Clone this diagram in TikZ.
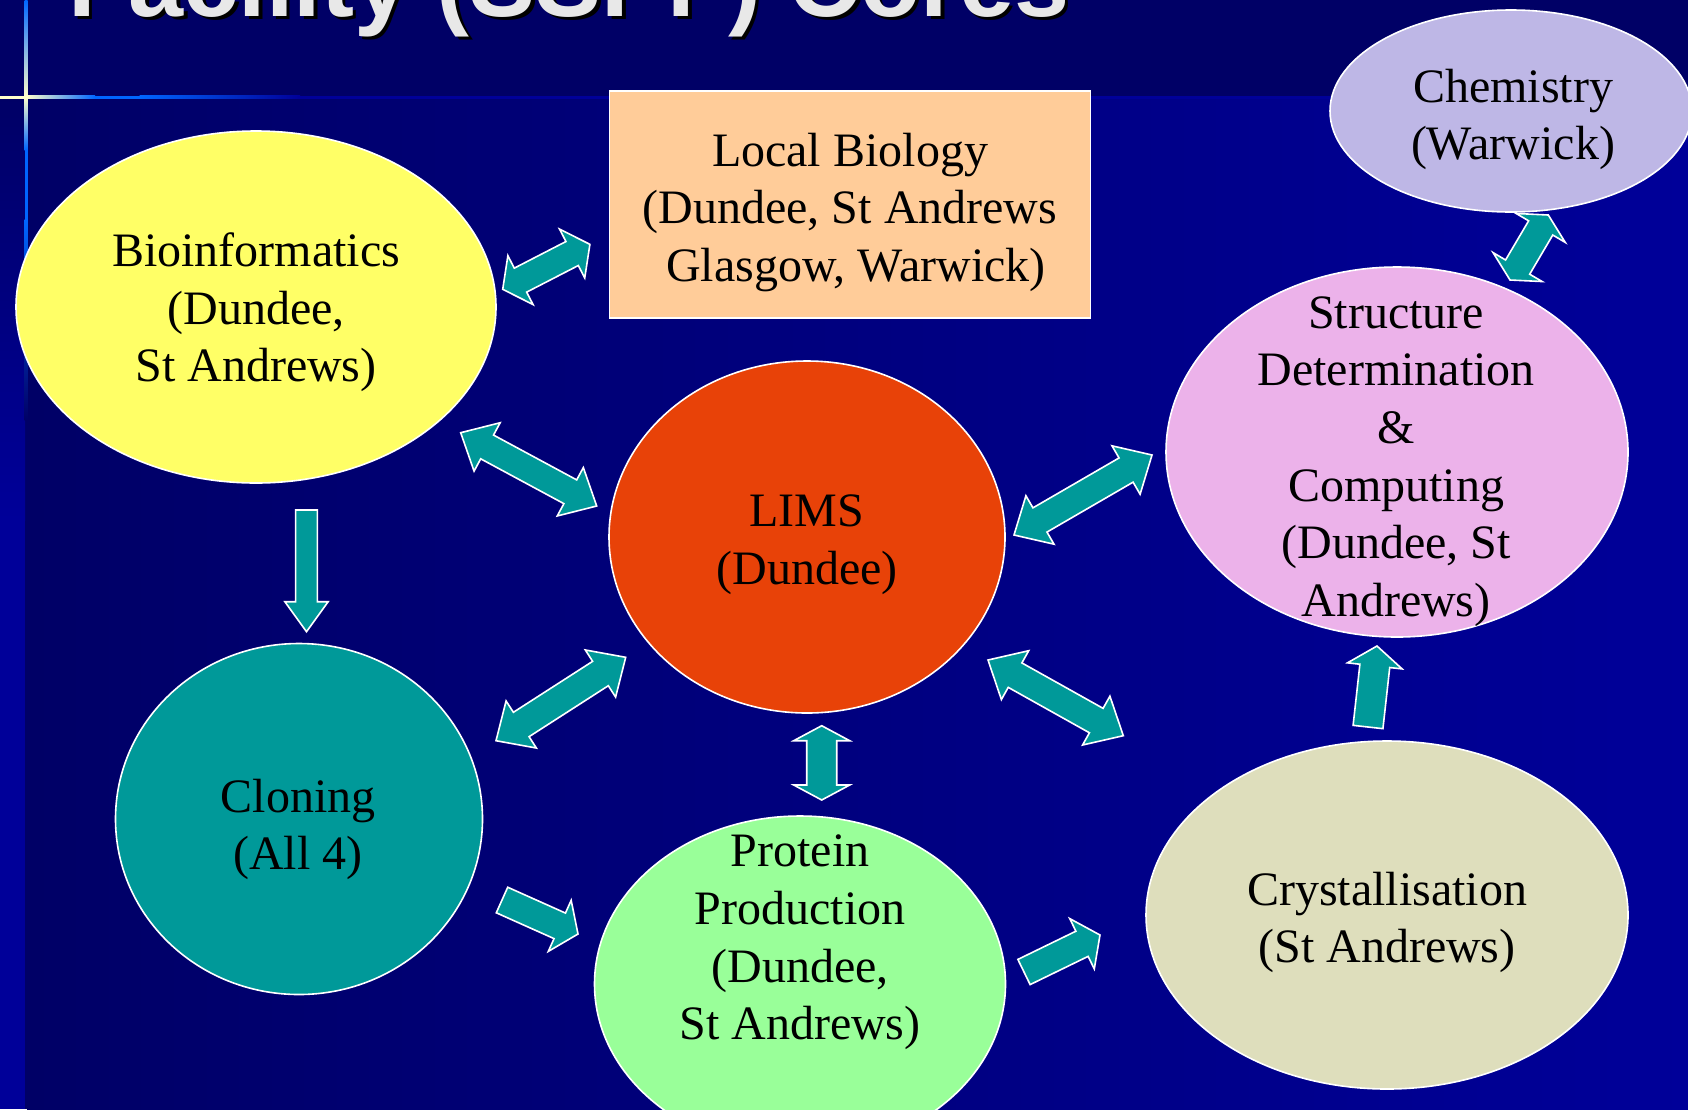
\documentclass[tikz,border=0pt]{standalone}
\usepackage{fontspec}
\setmainfont{Liberation Serif}
\newfontfamily\titlefont{Liberation Sans}
\usetikzlibrary{shapes.geometric}

\definecolor{bgdark}{RGB}{0,0,102}
\definecolor{bglight}{RGB}{0,0,153}
\definecolor{lineblue}{RGB}{0,102,255}
\definecolor{linecream}{RGB}{255,255,204}
\definecolor{titlegray}{RGB}{232,232,232}
\definecolor{arrowteal}{RGB}{0,153,153}
\definecolor{cbio}{RGB}{255,255,102}
\definecolor{clocal}{RGB}{255,204,153}
\definecolor{cchem}{RGB}{190,183,230}
\definecolor{clims}{RGB}{232,66,8}
\definecolor{cstruct}{RGB}{236,178,234}
\definecolor{cclone}{RGB}{0,153,153}
\definecolor{cprot}{RGB}{153,255,153}
\definecolor{ccryst}{RGB}{222,222,188}

\tikzset{
  ell/.style={ellipse, draw=white, line width=1.6pt, inner sep=0pt},
  boxnode/.style={rectangle, draw=white, line width=1.6pt, inner sep=0pt},
  lbl/.style={align=center, inner sep=0pt, text=black, font=\fontsize{48}{57.6}\selectfont},
  blockarrow/.style={fill=arrowteal, draw=white, line width=1.6pt, line join=miter},
}

% double block arrow: name, x1,y1,x2,y2, shaft width, head width, head length
\newcommand\dblarrow[8]{%
  \coordinate (#1-s) at (#2,#3);
  \coordinate (#1-e) at (#4,#5);
  \pgfmathsetmacro\arA{atan2(-(#5)+(#3),(#4)-(#2))}%
  \pgfmathsetmacro\arL{veclen((#4)-(#2),(#5)-(#3))}%
  \pgfmathsetmacro\arS{(#6)/2}%
  \pgfmathsetmacro\arH{(#7)/2}%
  \pgfmathsetmacro\arK{#8}%
  \pgfmathsetmacro\arM{\arL-\arK}%
  \draw[blockarrow, shift={(#1-s)}, rotate=\arA]
    (0,0) -- (\arK,\arH) -- (\arK,\arS) -- (\arM,\arS) -- (\arM,\arH) -- (\arL,0)
    -- (\arM,-\arH) -- (\arM,-\arS) -- (\arK,-\arS) -- (\arK,-\arH) -- cycle;
}
% single block arrow: name, tail x,y, tip x,y, shaft width, head width, head length
\newcommand\sglarrow[8]{%
  \coordinate (#1-s) at (#2,#3);
  \coordinate (#1-e) at (#4,#5);
  \pgfmathsetmacro\arA{atan2(-(#5)+(#3),(#4)-(#2))}%
  \pgfmathsetmacro\arL{veclen((#4)-(#2),(#5)-(#3))}%
  \pgfmathsetmacro\arS{(#6)/2}%
  \pgfmathsetmacro\arH{(#7)/2}%
  \pgfmathsetmacro\arK{#8}%
  \pgfmathsetmacro\arM{\arL-\arK}%
  \draw[blockarrow, shift={(#1-s)}, rotate=\arA]
    (0,\arS) -- (\arM,\arS) -- (\arM,\arH) -- (\arL,0)
    -- (\arM,-\arH) -- (\arM,-\arS) -- (0,-\arS) -- cycle;
}

\begin{document}
\begin{tikzpicture}[x=1pt,y=-1pt]
\useasboundingbox (0,0) rectangle (1688,1109);
\clip (0,0) rectangle (1688,1109);

% background
\fill[bgdark] (0,0) rectangle (1688,1109);
\shade[left color=bgdark, right color=bglight] (27,97) rectangle (1688,1109);
\shade[top color=bgdark, bottom color=bglight] (0,97) rectangle (25,520);
\fill[bglight] (0,519) rectangle (25,1109);

% decorative lines
\shade[top color=lineblue, bottom color=linecream] (24.5,0) rectangle (27.5,97);
\shade[top color=linecream, bottom color=lineblue] (24.5,97) rectangle (27.5,150);
\fill[lineblue] (24.5,149.5) rectangle (27.5,220);
\shade[top color=lineblue, bottom color=bgdark] (24.5,219.5) rectangle (27.5,420);
\fill[linecream] (0,95.5) rectangle (27,98.5);
\shade[left color=linecream, right color=lineblue] (26.5,95.5) rectangle (95,98.5);
\fill[lineblue] (94.5,95.5) rectangle (140,98.5);
\shade[left color=lineblue, right color=bglight] (139.5,95.5) rectangle (300,98.5);
\fill[bglight] (299.5,95.5) rectangle (1688,98.5);

% title (cut off at the top)
\node[anchor=base west, inner sep=0pt, font=\titlefont\bfseries\fontsize{99}{99}\selectfont, text=black] (titleshadow) at (71.5,19.5) {Facility (SSPF) Cores};
\node[anchor=base west, inner sep=0pt, font=\titlefont\bfseries\fontsize{99}{99}\selectfont, text=titlegray] (title) at (68,16) {Facility (SSPF) Cores};

% shapes
\node[ell, fill=cbio, minimum width=480pt, minimum height=352pt] (bio) at (256,307) {};
\node[boxnode, fill=clocal, minimum width=481pt, minimum height=227pt] (local) at (850,204.5) {};
\node[ell, fill=cchem, minimum width=362pt, minimum height=202pt] (chem) at (1511,111) {};
\node[ell, fill=clims, minimum width=396pt, minimum height=352pt] (lims) at (807,537) {};
\node[ell, fill=cstruct, minimum width=462pt, minimum height=370pt] (struct) at (1397,452) {};
\node[ell, fill=cclone, minimum width=367pt, minimum height=351pt] (clone) at (299,819) {};
\node[ell, fill=cprot, minimum width=411pt, minimum height=336pt] (prot) at (800,984) {};
\node[ell, fill=ccryst, minimum width=482pt, minimum height=348pt] (cryst) at (1387,915) {};

% texts
\node[lbl] (biot) at (256,312.5) {Bioinformatics\\(Dundee,\\St Andrews)};
\node[lbl] (localt) at (850,212.5) {Local Biology\\(Dundee, St Andrews\\\hspace*{12pt}Glasgow, Warwick)};
\node[lbl] (chemt) at (1513,119.5) {Chemistry\\(Warwick)};
\node[lbl] (limst) at (807,544.5) {LIMS\\(Dundee)};
\node[lbl] (structt) at (1396,461.5) {Structure\\Determination\\\&\\Computing\\(Dundee, St\\Andrews)};
\node[lbl] (clonet) at (298,829.5) {Cloning\\(All 4)};
\node[lbl] (prott) at (800,942.5) {Protein\\Production\\(Dundee,\\St Andrews)};
\node[lbl] (crystt) at (1387,922.5) {Crystallisation\\(St Andrews)};

% block arrows
\dblarrow{biolocal}{502.7}{289.3}{590}{244.3}{27}{55}{20}
\dblarrow{biolims}{460.7}{432.7}{596.7}{506}{27}{55}{30}
\dblarrow{limsstruct}{1014}{535}{1152}{455}{28}{56}{30}
\dblarrow{clonelims}{496}{740.7}{625.7}{657.3}{29}{56}{30}
\dblarrow{limscryst}{988}{660}{1123.3}{735.7}{28}{56}{31}
\dblarrow{limsprot}{821.7}{725.7}{821.7}{800}{30}{56}{15}
\dblarrow{chemstruct}{1510}{280}{1548.3}{215}{28}{57}{15}
\sglarrow{bioclone}{306.5}{510}{306.5}{631.7}{21.7}{43.3}{30}
\sglarrow{cloneprot}{502}{900}{578}{934}{28}{56}{20}
\sglarrow{protcryst}{1024}{972}{1100}{935}{28}{56}{20}
\sglarrow{crystruct}{1368}{727}{1377}{646}{30}{55}{20}
\end{tikzpicture}
\end{document}
